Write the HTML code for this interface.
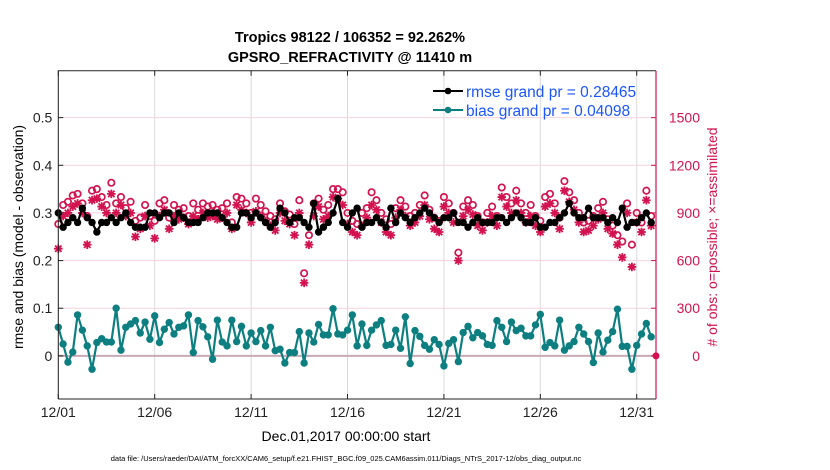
<!DOCTYPE html>
<html><head><meta charset="utf-8"><style>
body{margin:0;background:#fff;}
svg{display:block;font-family:"Liberation Sans",sans-serif;}
</style></head><body>
<svg id="chart" width="830" height="470" viewBox="0 0 830 470" xmlns="http://www.w3.org/2000/svg">
<text x="350" y="42" font-size="14.5" font-weight="bold" text-anchor="middle">Tropics 98122 / 106352 = 92.262%</text>
<text x="350" y="62" font-size="14.5" font-weight="bold" text-anchor="middle">GPSRO_REFRACTIVITY @ 11410 m</text>
<g id="grid"></g>
<g id="marks"></g>
<g id="axes"></g>
<text transform="translate(23,237) rotate(-90)" font-size="14" text-anchor="middle">rmse and bias (model - observation)</text>
<text transform="translate(717,237) rotate(-90)" font-size="14" text-anchor="middle" fill="#d2134f"># of obs: o=possible; ×=assimilated</text>
<text x="346" y="441" font-size="14" text-anchor="middle">Dec.01,2017 00:00:00 start</text>
<text x="346" y="461" font-size="7.5" text-anchor="middle">data file: /Users/raeder/DAI/ATM_forcXX/CAM6_setup/f.e21.FHIST_BGC.f09_025.CAM6assim.011/Diags_NTrS_2017-12/obs_diag_output.nc</text>
<g>
<line x1="433" y1="91" x2="463" y2="91" stroke="#000" stroke-width="2"/>
<circle cx="448" cy="91" r="3.3" fill="#000"/>
<text x="466" y="97" font-size="15.5" fill="#1a55ff">rmse grand pr = 0.28465</text>
<line x1="433" y1="110" x2="463" y2="110" stroke="#0d7f80" stroke-width="2"/>
<circle cx="448" cy="110" r="3.3" fill="#0d7f80"/>
<text x="466" y="116" font-size="15.5" fill="#1a55ff">bias grand pr = 0.04098</text>
</g>
</svg>
<script>
const xTickLabels=["12/01","12/06","12/11","12/16","12/21","12/26","12/31"];
const xTickDays=[0,5,10,15,20,25,30];
const yLeftTicks=[0,0.1,0.2,0.3,0.4,0.5];
const yRightTicks=[0,300,600,900,1200,1500];
const rmse=[.30,.27,.28,.29,.28,.31,.29,.28,.26,.28,.28,.29,.28,.29,.30,.28,.27,.27,.27,.30,.30,.29,.30,.30,.28,.30,.29,.28,.28,.28,.29,.30,.30,.30,.29,.28,.27,.27,.30,.30,.29,.30,.29,.28,.27,.28,.31,.30,.28,.29,.29,.28,.27,.32,.26,.27,.28,.30,.33,.28,.27,.30,.31,.27,.28,
.28,.29,.28,.27,.31,.28,.30,.29,.28,.29,.30,.31,.30,.29,.28,.29,.29,.30,.28,.28,.27,.28,.29,.28,.28,.28,.29,.29,.28,.29,.30,.29,.28,
.28,.29,.27,.27,.28,.28,.29,.30,.32,.30,.29,.29,.31,.29,.29,.29,.28,.29,.28,.31,.27,.28,.28,.29,.30,.28];
const bias=[.060,.025,-.013,.008,.086,.054,.021,-.028,.028,.036,.029,.029,.100,.012,.060,.067,.074,.048,.071,.035,.084,.028,.056,.070,.046,.060,.063,.086,.007,.074,.061,.040,-.007,.075,.029,.021,.075,.030,.062,.021,.048,.030,.053,.021,.060,.011,.014,-.015,.007,.007,.051,-.015,.048,.029,.066,.044,.044,.099,.046,
.044,.054,.086,.021,.067,.022,.054,.065,.074,.022,.024,.054,.016,.082,-.016,.053,.041,.022,.014,.034,.024,-.021,.026,.034,-.012,.049,.062,.038,.049,.042,.024,.022,.074,.060,.030,.071,.053,.058,.042,.042,.065,.087,.018,.028,.021,.075,.012,.021,.030,.060,.046,.030,-.014,.048,.008,.033,.051,.098,.020,.020,-.028,.022,.046,.068,.040];
const possible=[830,950,970,1010,1020,960,880,1040,1050,1000,950,1090,960,1000,930,970,850,870,950,880,850,960,980,870,950,920,930,880,960,920,960,940,950,920,930,960,840,1000,990,960,900,990,950,910,880,860,960,910,890,830,980,520,760,960,990,920,950,1050,1050,1030,900,850,830,900,930,
1030,980,900,860,830,930,980,940,880,900,950,1010,920,870,850,1000,960,900,650,940,980,950,880,840,900,940,880,1060,1000,960,1040,960,900,
950,880,850,1000,1020,960,870,1100,1030,980,900,840,850,880,930,970,860,820,760,720,960,700,900,840,1040,880];
const assimilated=[675,880,900,940,960,900,700,980,990,940,900,1020,900,950,880,900,750,800,880,820,740,880,920,800,880,860,870,830,880,860,900,870,880,860,870,900,800,950,920,900,840,910,880,850,820,790,900,850,830,760,900,460,700,880,940,860,880,1000,990,950,830,780,760,820,870,
950,920,840,780,760,870,920,880,820,840,880,950,860,800,780,940,900,840,600,880,920,890,820,790,840,880,820,1000,940,900,980,900,840,
880,820,780,940,960,900,800,1040,970,920,840,780,790,820,860,900,800,770,700,620,900,560,840,780,980,820];

const NS="http://www.w3.org/2000/svg";
const L=58.3,R=656,T=70.7,B=399;
const xMax=31, yMin=-0.0905, yMax=0.5985, cntPerUnit=3000;
function xd(d){return L+(d/xMax)*(R-L);}
function yl(v){return B-(v-yMin)/(yMax-yMin)*(B-T);}
function yr(c){return yl(c/cntPerUnit);}
function mk(tag,attrs,parent){const e=document.createElementNS(NS,tag);for(const k in attrs)e.setAttribute(k,attrs[k]);parent.appendChild(e);return e;}
const grid=document.getElementById('grid'),marks=document.getElementById('marks'),axes=document.getElementById('axes');
const PINK="#d2134f",TEAL="#0d7f80";

xTickDays.forEach(d=>{const g=mk('line',{x1:xd(d),x2:xd(d),y1:T,y2:B,stroke:'#dadada','stroke-width':1},grid);

});
yRightTicks.forEach(c=>{if(c===0)return;const g=mk('line',{x1:L,x2:R,y1:yr(c),y2:yr(c),stroke:'#f7d3df','stroke-width':1},grid);

});
const zl=mk('line',{x1:L,x2:R,y1:yl(0),y2:yl(0),stroke:'#c9a9b5','stroke-width':2},grid);



const step=0.25;
possible.forEach((c,i)=>{const e=mk('circle',{cx:xd(i*step),cy:yr(c),r:3.2,fill:'none',stroke:PINK,'stroke-width':1.7},marks);

});
assimilated.forEach((c,i)=>{const x=xd(i*step),y=yr(c),s=4.3,s2=3.2;
const e=mk('path',{d:`M${x-s},${y}H${x+s}M${x},${y-s}V${y+s}M${x-s2},${y-s2}L${x+s2},${y+s2}M${x-s2},${y+s2}L${x+s2},${y-s2}`,stroke:PINK,'stroke-width':1.8,fill:'none'},marks);

});
function series(arr,col,name){
const p=mk('polyline',{points:arr.map((v,i)=>xd(i*step)+','+yl(v)).join(' '),fill:'none',stroke:col,'stroke-width':2.2},marks);


arr.forEach((v,i)=>{const c=mk('circle',{cx:xd(i*step),cy:yl(v),r:3.7,fill:col},marks);

});}
series(rmse,'#000','rmse');
series(bias,TEAL,'bias');
const zm=mk('circle',{cx:R,cy:yr(0),r:3.5,fill:PINK},marks);



const box=mk('path',{d:`M${L},${B}V${T}H${R}`,fill:'none',stroke:'#222','stroke-width':1},axes);


const bl=mk('line',{x1:L,x2:R,y1:B,y2:B,stroke:'#222','stroke-width':1},axes);


const rl=mk('line',{x1:R,x2:R,y1:T,y2:B,stroke:PINK,'stroke-width':1.2},axes);


xTickDays.forEach((d,i)=>{const x=xd(d);
mk('line',{x1:x,x2:x,y1:B,y2:B-5,stroke:'#222'},axes);
mk('line',{x1:x,x2:x,y1:T,y2:T+5,stroke:'#222'},axes);
const t=mk('text',{x:x,y:B+18,'font-size':14,'text-anchor':'middle',fill:'#222'},axes);t.textContent=xTickLabels[i];

});
yLeftTicks.forEach(v=>{const y=yl(v);
mk('line',{x1:L,x2:L+5,y1:y,y2:y,stroke:'#222'},axes);
const t=mk('text',{x:L-6,y:y+5,'font-size':14,'text-anchor':'end',fill:'#222'},axes);t.textContent=(v===0?'0':String(v));

});
yRightTicks.forEach(c=>{const y=yr(c);
mk('line',{x1:R,x2:R-5,y1:y,y2:y,stroke:PINK},axes);
const t=mk('text',{x:R+44,y:y+5,'font-size':14,'text-anchor':'end',fill:PINK},axes);t.textContent=String(c);

});
</script>
</body></html>
